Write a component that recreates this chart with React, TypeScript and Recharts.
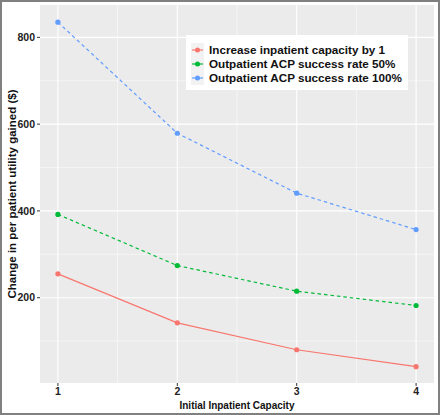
import React from "react";
import { CartesianGrid, Legend, Line, LineChart, XAxis, YAxis } from "recharts";

const capacity = [1, 2, 3, 4];
const increaseInpatient = [255, 142, 80, 41];
const outpatient50 = [392, 274, 215, 182];
const outpatient100 = [835, 579, 441, 357];

const seriesNames = [
  "Increase inpatient capacity by 1",
  "Outpatient ACP success rate 50%",
  "Outpatient ACP success rate 100%",
];

const xTicks = [1, 2, 3, 4];
const xMinor = [1.5, 2.5, 3.5];
const yTicks = [200, 400, 600, 800];
const yMinor = [100, 300, 500, 700];

const data = capacity.map((c, i) => ({
  capacity: c,
  inpatient: increaseInpatient[i],
  acp50: outpatient50[i],
  acp100: outpatient100[i],
}));

const RED = "#F8766D";
const GREEN = "#00BA38";
const BLUE = "#619CFF";
const FONT = "'Liberation Sans', Arial, sans-serif";

const tickStyle = { fill: "#222", fontSize: 10.5, fontWeight: 700, fontFamily: FONT };

function LegendBox({ payload }: { payload?: any[] }) {
  // keep the ggplot order rather than recharts' alphabetical one
  const items = [...(payload ?? [])].sort(
    (a, b) => seriesNames.indexOf(a.value) - seriesNames.indexOf(b.value)
  );
  return (
    <div
      style={{
        background: "#fff",
        padding: "8px 6px 5px 5px",
        fontFamily: FONT,
        fontWeight: 700,
        fontSize: 11.7,
        color: "#111",
        lineHeight: "14px",
      }}
    >
      {items.map((p) => (
        <div key={p.value} style={{ display: "flex", alignItems: "center", height: 14 }}>
          <svg width={13} height={14} style={{ marginRight: 5 }}>
            <rect x={0} y={0} width={13} height={14} fill="#F2F2F2" />
            <line x1={1} x2={12} y1={7} y2={7} stroke={p.color} strokeWidth={1.2} />
            <circle cx={6.5} cy={7} r={2.5} fill={p.color} />
          </svg>
          <span>{p.value}</span>
        </div>
      ))}
    </div>
  );
}

export default function App() {
  return (
    <div
      style={{
        position: "absolute",
        left: 0,
        top: 0,
        width: 440,
        height: 415,
        border: "2px solid #808080",
        boxSizing: "border-box",
        background: "#fff",
      }}
    >
      <style>{"body{margin:0}"}</style>
      <div style={{ position: "absolute", left: -2, top: -2 }}>
        <LineChart width={440} height={415} data={data} margin={{ top: 5, right: 6, bottom: 0, left: 0 }}>
          <CartesianGrid
            fill="#EBEBEB"
            stroke="#FFFFFF"
            strokeWidth={0.5}
            horizontalValues={yMinor}
            verticalValues={xMinor}
          />
          <CartesianGrid
            stroke="#FFFFFF"
            strokeWidth={1.1}
            horizontalValues={yTicks}
            verticalValues={xTicks}
          />
          <XAxis
            dataKey="capacity"
            type="number"
            domain={[0.85, 4.15]}
            ticks={xTicks}
            height={32}
            tick={tickStyle}
            tickLine={{ stroke: "#333" }}
            tickSize={3}
            axisLine={false}
            label={{
              value: "Initial Inpatient Capacity",
              position: "insideBottom",
              offset: 6,
              style: { fill: "#111", fontSize: 10, fontWeight: 700, fontFamily: FONT },
            }}
          />
          <YAxis
            type="number"
            domain={[3.4, 874.6]}
            ticks={yTicks}
            width={40}
            tick={tickStyle}
            tickLine={{ stroke: "#333" }}
            tickSize={3}
            axisLine={false}
            label={{
              value: "Change in per patient utility gained ($)",
              angle: -90,
              position: "insideLeft",
              offset: 12,
              style: { textAnchor: "middle", fill: "#111", fontSize: 11.5, fontWeight: 700, fontFamily: FONT },
            }}
          />
          <Legend
            verticalAlign="middle"
            align="center"
            layout="vertical"
            wrapperStyle={{ top: 35, left: 186, width: "auto", height: "auto" }}
            content={(props: any) => <LegendBox payload={props.payload} />}
          />
          <Line
            name={seriesNames[0]}
            dataKey="inpatient"
            stroke={RED}
            strokeWidth={1.2}
            dot={{ r: 2.6, fill: RED, stroke: RED, strokeWidth: 0 }}
            activeDot={false}
            isAnimationActive={false}
          />
          <Line
            name={seriesNames[1]}
            dataKey="acp50"
            stroke={GREEN}
            strokeWidth={1.2}
            strokeDasharray="3.5 3"
            dot={{ r: 2.6, fill: GREEN, stroke: GREEN, strokeWidth: 0 }}
            activeDot={false}
            isAnimationActive={false}
          />
          <Line
            name={seriesNames[2]}
            dataKey="acp100"
            stroke={BLUE}
            strokeWidth={1.2}
            strokeDasharray="3.5 3"
            dot={{ r: 2.6, fill: BLUE, stroke: BLUE, strokeWidth: 0 }}
            activeDot={false}
            isAnimationActive={false}
          />
        </LineChart>
      </div>
    </div>
  );
}
